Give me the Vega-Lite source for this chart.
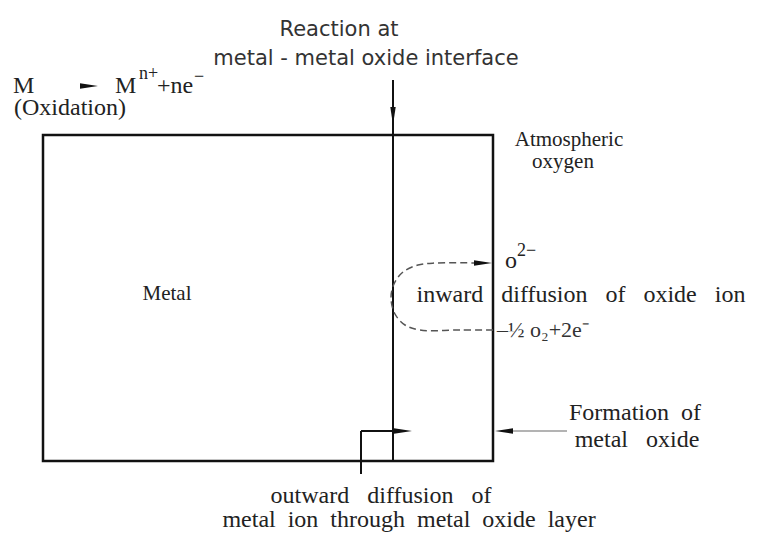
{
  "$schema": "https://vega.github.io/schema/vega-lite/v6.json",
  "width": 760,
  "height": 537,
  "autosize": {"type": "fit", "contains": "padding"},
  "padding": 0,
  "background": "white",
  "config": {"view": {"stroke": null}},
  "datasets": {
    "box": [{"x": 43, "y": 135, "x2": 493, "y2": 461}],
    "solid": [
      {"part": "interface", "x": 393, "y": 80, "x2": 393, "y2": 461},
      {"part": "outward-up", "x": 361, "y": 474, "x2": 361, "y2": 431},
      {"part": "outward-right", "x": 361, "y": 431, "x2": 400, "y2": 431}
    ],
    "gray": [{"part": "formation", "x": 510, "y": 431, "x2": 567, "y2": 431}],
    "dashed": [
      {"o": 1, "x": 493, "y": 330},
      {"o": 2, "x": 460, "y": 330},
      {"o": 3, "x": 420, "y": 330},
      {"o": 4, "x": 405, "y": 325},
      {"o": 5, "x": 395, "y": 314},
      {"o": 6, "x": 391, "y": 298},
      {"o": 7, "x": 394, "y": 284},
      {"o": 8, "x": 403, "y": 272},
      {"o": 9, "x": 418, "y": 265},
      {"o": 10, "x": 436, "y": 263},
      {"o": 11, "x": 478, "y": 263}
    ],
    "arrows": [
      {"name": "interface", "dir": "down", "x": 393, "y": 116},
      {"name": "oxidation", "dir": "right", "x": 89, "y": 86},
      {"name": "outward", "dir": "right", "x": 403, "y": 431},
      {"name": "oxide ion", "dir": "right", "x": 483, "y": 263},
      {"name": "formation", "dir": "left", "x": 504, "y": 431}
    ],
    "sans": [
      {"t": "Reaction at", "x": 339, "y": 36},
      {"t": "metal - metal oxide interface", "x": 366, "y": 65}
    ],
    "serifCenter": [
      {"t": "outward\u00a0\u00a0\u00a0diffusion\u00a0\u00a0\u00a0of", "x": 381, "y": 503},
      {"t": "metal\u00a0\u00a0ion\u00a0\u00a0through\u00a0\u00a0metal\u00a0\u00a0oxide\u00a0\u00a0layer", "x": 409, "y": 527},
      {"t": "Formation\u00a0\u00a0of", "x": 635, "y": 420},
      {"t": "metal\u00a0\u00a0\u00a0oxide", "x": 637, "y": 447},
      {"t": "inward\u00a0\u00a0\u00a0diffusion\u00a0\u00a0\u00a0of\u00a0\u00a0\u00a0oxide\u00a0\u00a0\u00a0ion", "x": 581, "y": 302},
      {"t": "o", "x": 511, "y": 268}
    ],
    "serifLeft": [
      {"t": "M", "x": 13, "y": 93},
      {"t": "M", "x": 115, "y": 93},
      {"t": "+ne", "x": 157, "y": 93},
      {"t": "(Oxidation)", "x": 14, "y": 115}
    ],
    "serifSmall": [
      {"t": "Atmospheric", "x": 569, "y": 146},
      {"t": "oxygen", "x": 563, "y": 168},
      {"t": "Metal", "x": 167, "y": 300}
    ],
    "serifNote": [
      {"t": "–½ o₂+2e⁻", "x": 497, "y": 337}
    ],
    "sup": [
      {"t": "n+", "x": 139, "y": 79},
      {"t": "−", "x": 194, "y": 82},
      {"t": "2−", "x": 517, "y": 256}
    ]
  },
  "layer": [
    {
      "data": {"name": "box"},
      "mark": {"type": "rect", "filled": false, "stroke": "#111111", "strokeWidth": 2.5},
      "encoding": {
        "x": {"field": "x", "type": "quantitative", "scale": {"domain": [0, 760], "nice": false, "zero": false}, "axis": null},
        "x2": {"field": "x2"},
        "y": {"field": "y", "type": "quantitative", "scale": {"domain": [0, 537], "nice": false, "zero": false, "reverse": true}, "axis": null},
        "y2": {"field": "y2"}
      }
    },
    {
      "data": {"name": "solid"},
      "mark": {"type": "rule", "stroke": "#111111", "strokeWidth": 2},
      "encoding": {
        "x": {"field": "x", "type": "quantitative", "scale": {"domain": [0, 760], "nice": false, "zero": false}, "axis": null},
        "x2": {"field": "x2"},
        "y": {"field": "y", "type": "quantitative", "scale": {"domain": [0, 537], "nice": false, "zero": false, "reverse": true}, "axis": null},
        "y2": {"field": "y2"}
      }
    },
    {
      "data": {"name": "gray"},
      "mark": {"type": "rule", "stroke": "#9a9a9a", "strokeWidth": 1.5},
      "encoding": {
        "x": {"field": "x", "type": "quantitative", "scale": {"domain": [0, 760], "nice": false, "zero": false}, "axis": null},
        "x2": {"field": "x2"},
        "y": {"field": "y", "type": "quantitative", "scale": {"domain": [0, 537], "nice": false, "zero": false, "reverse": true}, "axis": null},
        "y2": {"field": "y2"}
      }
    },
    {
      "data": {"name": "dashed"},
      "mark": {"type": "line", "stroke": "#555555", "strokeWidth": 1.5, "strokeDash": [7, 4], "interpolate": "catmull-rom"},
      "encoding": {
        "x": {"field": "x", "type": "quantitative", "scale": {"domain": [0, 760], "nice": false, "zero": false}, "axis": null},
        "y": {"field": "y", "type": "quantitative", "scale": {"domain": [0, 537], "nice": false, "zero": false, "reverse": true}, "axis": null},
        "order": {"field": "o", "type": "quantitative"}
      }
    },
    {
      "data": {"name": "arrows"},
      "mark": {"type": "point", "filled": true, "color": "#111111", "opacity": 1, "size": 324, "strokeWidth": 0},
      "encoding": {
        "x": {"field": "x", "type": "quantitative", "scale": {"domain": [0, 760], "nice": false, "zero": false}, "axis": null},
        "y": {"field": "y", "type": "quantitative", "scale": {"domain": [0, 537], "nice": false, "zero": false, "reverse": true}, "axis": null},
        "shape": {
          "field": "dir", "type": "nominal", "legend": null,
          "scale": {"domain": ["right", "left", "down"], "range": ["M-1,-0.3L1,0L-1,0.3Z", "M1,-0.3L-1,0L1,0.3Z", "M-0.3,-1L0,1L0.3,-1Z"]}
        }
      }
    },
    {
      "data": {"name": "sans"},
      "mark": {"type": "text", "font": "DejaVu Sans", "fontSize": 21, "align": "center", "baseline": "alphabetic", "color": "#333333"},
      "encoding": {
        "x": {"field": "x", "type": "quantitative", "scale": {"domain": [0, 760], "nice": false, "zero": false}, "axis": null},
        "y": {"field": "y", "type": "quantitative", "scale": {"domain": [0, 537], "nice": false, "zero": false, "reverse": true}, "axis": null},
        "text": {"field": "t"}
      }
    },
    {
      "data": {"name": "serifCenter"},
      "mark": {"type": "text", "font": "Liberation Serif", "fontSize": 24, "align": "center", "baseline": "alphabetic", "color": "#222222"},
      "encoding": {
        "x": {"field": "x", "type": "quantitative", "scale": {"domain": [0, 760], "nice": false, "zero": false}, "axis": null},
        "y": {"field": "y", "type": "quantitative", "scale": {"domain": [0, 537], "nice": false, "zero": false, "reverse": true}, "axis": null},
        "text": {"field": "t"}
      }
    },
    {
      "data": {"name": "serifLeft"},
      "mark": {"type": "text", "font": "Liberation Serif", "fontSize": 24, "align": "left", "baseline": "alphabetic", "color": "#222222"},
      "encoding": {
        "x": {"field": "x", "type": "quantitative", "scale": {"domain": [0, 760], "nice": false, "zero": false}, "axis": null},
        "y": {"field": "y", "type": "quantitative", "scale": {"domain": [0, 537], "nice": false, "zero": false, "reverse": true}, "axis": null},
        "text": {"field": "t"}
      }
    },
    {
      "data": {"name": "serifSmall"},
      "mark": {"type": "text", "font": "Liberation Serif", "fontSize": 21, "align": "center", "baseline": "alphabetic", "color": "#222222"},
      "encoding": {
        "x": {"field": "x", "type": "quantitative", "scale": {"domain": [0, 760], "nice": false, "zero": false}, "axis": null},
        "y": {"field": "y", "type": "quantitative", "scale": {"domain": [0, 537], "nice": false, "zero": false, "reverse": true}, "axis": null},
        "text": {"field": "t"}
      }
    },
    {
      "data": {"name": "serifNote"},
      "mark": {"type": "text", "font": "Liberation Serif", "fontSize": 22, "align": "left", "baseline": "alphabetic", "color": "#333333"},
      "encoding": {
        "x": {"field": "x", "type": "quantitative", "scale": {"domain": [0, 760], "nice": false, "zero": false}, "axis": null},
        "y": {"field": "y", "type": "quantitative", "scale": {"domain": [0, 537], "nice": false, "zero": false, "reverse": true}, "axis": null},
        "text": {"field": "t"}
      }
    },
    {
      "data": {"name": "sup"},
      "mark": {"type": "text", "font": "Liberation Serif", "fontSize": 18, "align": "left", "baseline": "alphabetic", "color": "#222222"},
      "encoding": {
        "x": {"field": "x", "type": "quantitative", "scale": {"domain": [0, 760], "nice": false, "zero": false}, "axis": null},
        "y": {"field": "y", "type": "quantitative", "scale": {"domain": [0, 537], "nice": false, "zero": false, "reverse": true}, "axis": null},
        "text": {"field": "t"}
      }
    }
  ]
}
